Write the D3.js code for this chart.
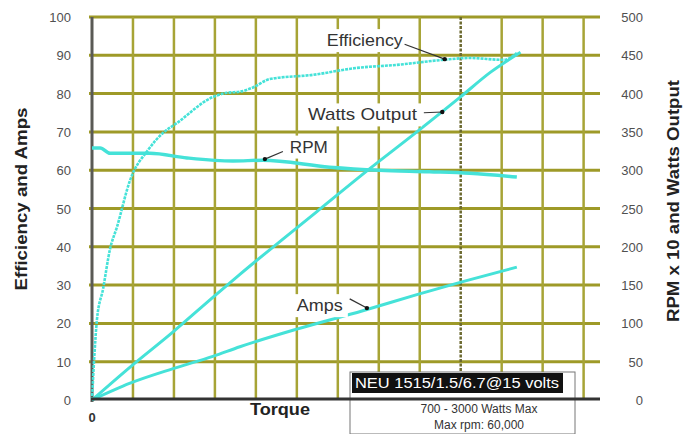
<!DOCTYPE html>
<html><head><meta charset="utf-8">
<script src="https://cdn.jsdelivr.net/npm/d3@7"></script>
<style>html,body{margin:0;padding:0;background:#fff;}svg{display:block;font-family:"Liberation Sans",Arial,sans-serif;}</style>
</head><body><svg id="c" width="694" height="434"></svg>
<script>
// ---- data (x = torque in grid units, left axis 0-100, right axis 0-500) ----
const leftTicks = [0,10,20,30,40,50,60,70,80,90,100];
const rightTicks = [0,50,100,150,200,250,300,350,400,450,500];
const torqueGrid = [1,2,3,4,5,6,7,8,9,10,11,12];
const efficiencyX = [0,0.06,0.12,0.27,0.44,0.61,0.93,1.37,1.73,2.07,2.95,3.29,3.61,3.93,4.34,5.39,6.46,7.44,8.56,9.22,10.05,10.37];
const efficiency  = [0,12,20.9,29.0,39.4,45.2,57.4,65.3,69.7,72.3,79.1,80.2,80.5,81.6,83.8,84.9,86.7,87.5,88.8,89.3,88.8,90.6];
const wattsX = [0,0.93,1.98,2.95,3.61,5.49,6.78,7.93,8.98,9.73,10.46];
const watts  = [0,43,89,134,164,246,302,350,395,428,454];
const rpmX = [0,0.2,0.44,1.41,2.32,3.44,4.17,5.8,7.02,8.24,9.22,10.37];
const rpm  = [329,329,322,322,316,312,313,304,300,298,296,291];
const ampsX = [0,0.93,1.98,2.95,3.61,5.0,6.61,7.93,9.05,10.37];
const amps  = [0,4.4,8.2,11.4,13.9,18.5,23.3,27.5,30.9,34.7];
// annotation labels: [text, textX, textY(left units), arrowFromX, arrowFromY, arrowToX, arrowToY, width]
const notes = [
  ["Efficiency", 5.73, 92.4, 7.63, 92.9, 8.61, 89.0, 76],
  ["Watts Output", 5.27, 73.0, 8.10, 75.0, 8.55, 75.2, 109],
  ["RPM", 4.83, 64.6, 4.66, 64.9, 4.22, 62.9, 38],
  ["Amps", 5.0, 23.2, 6.29, 26.4, 6.71, 24.0, 46]
];
const boxTitle = "NEU 1515/1.5/6.7@15 volts";
const boxLines = ["700 - 3000 Watts Max", "Max rpm: 60,000"];

const svg = d3.select("#c");
const x = d3.scaleLinear().domain([0,12.4]).range([92,600]);
const yL = d3.scaleLinear().domain([0,100]).range([400,17]);
const yR = d3.scaleLinear().domain([0,500]).range([400,17]);
const cyan = "#45e2d8";

// grid
svg.append("g").selectAll("line").data(leftTicks.slice(1)).join("line")
  .attr("x1", x(0)-3).attr("x2", x(12.4)).attr("y1", d=>yL(d)).attr("y2", d=>yL(d))
  .attr("stroke", "#9e9a28").attr("stroke-width", 3);
svg.append("g").selectAll("line").data(torqueGrid).join("line")
  .attr("x1", d=>x(d)).attr("x2", d=>x(d)).attr("y1", yL(100)).attr("y2", yL(0))
  .attr("stroke", d=> d===9 ? "#6c6a30" : "#a7a436").attr("stroke-width", 2.5)
  .attr("stroke-dasharray", d=> d===9 ? "3,1.5" : null);
// left axis line
svg.append("line").attr("x1", x(0)).attr("x2", x(0)).attr("y1", yL(100)).attr("y2", yL(0)+2)
  .attr("stroke", "#5a5a55").attr("stroke-width", 3);

// tick labels
svg.append("g").selectAll("text").data(leftTicks).join("text")
  .attr("x", 71).attr("y", d=>yL(d)+5).attr("text-anchor","end")
  .attr("font-size", 13).attr("fill", "#505050").text(d=>d);
svg.append("g").selectAll("text").data(rightTicks).join("text")
  .attr("x", 643).attr("y", d=>yR(d)+5).attr("text-anchor","end")
  .attr("font-size", 13).attr("fill", "#505050").text(d=>d);
svg.append("text").attr("x", x(0)).attr("y", 422).attr("text-anchor","middle")
  .attr("font-size", 13).attr("font-weight","bold").attr("fill","#333").text("0");

// axis titles
svg.append("text").attr("transform","translate(27,199) rotate(-90)").attr("text-anchor","middle")
  .attr("font-size", 16).attr("font-weight","bold").attr("fill","#222")
  .attr("textLength", 183).attr("lengthAdjust","spacingAndGlyphs").text("Efficiency and Amps");
svg.append("text").attr("transform","translate(679,201) rotate(-90)").attr("text-anchor","middle")
  .attr("font-size", 16).attr("font-weight","bold").attr("fill","#222")
  .attr("textLength", 242).attr("lengthAdjust","spacingAndGlyphs").text("RPM x 10 and Watts Output");
svg.append("text").attr("x", 280).attr("y", 415).attr("text-anchor","middle")
  .attr("font-size", 16).attr("font-weight","bold").attr("fill","#222")
  .attr("textLength", 60).attr("lengthAdjust","spacingAndGlyphs").text("Torque");

// curves
const lineL = (xs, ys, sc) => d3.line().x((d,i)=>x(xs[i])).y(d=>sc(d)).curve(d3.curveMonotoneX)(ys);
svg.append("path").attr("d", lineL(wattsX, watts, yR)).attr("fill","none").attr("stroke",cyan).attr("stroke-width",3);
svg.append("path").attr("d", lineL(ampsX, amps, yL)).attr("fill","none").attr("stroke",cyan).attr("stroke-width",3);
svg.append("path").attr("d", lineL(rpmX, rpm, yR)).attr("fill","none").attr("stroke",cyan).attr("stroke-width",3.5);
svg.append("path").attr("d", lineL(efficiencyX, efficiency, yL)).attr("fill","none").attr("stroke",cyan)
  .attr("stroke-width",2.6).attr("stroke-dasharray","3,1");

// annotations
const ng = svg.append("g");
notes.forEach(n => {
  const tx = x(n[1]), ty = yL(n[2]);
  ng.append("rect").attr("x", tx-5).attr("y", ty-17).attr("width", n[7]+10).attr("height", 23).attr("fill","#fff");
  ng.append("text").attr("x", tx).attr("y", ty).attr("font-size", 17).attr("fill","#333")
    .attr("textLength", n[7]).attr("lengthAdjust","spacingAndGlyphs").text(n[0]);
  ng.append("line").attr("x1", x(n[3])).attr("y1", yL(n[4])).attr("x2", x(n[5])).attr("y2", yL(n[6]))
    .attr("stroke","#333").attr("stroke-width",1.2);
  ng.append("circle").attr("cx", x(n[5])).attr("cy", yL(n[6])).attr("r", 2.2).attr("fill","#111");
});

// info box
const bx = 350, by = 372;
svg.append("rect").attr("x", bx).attr("y", by).attr("width", 225).attr("height", 62)
  .attr("fill","#fff").attr("stroke","#777").attr("stroke-width",1);
svg.append("rect").attr("x", bx+2).attr("y", by+1).attr("width", 211).attr("height", 20).attr("fill","#111");
svg.append("text").attr("x", bx+5).attr("y", by+16).attr("font-size", 15).attr("fill","#fff")
  .attr("textLength", 204).attr("lengthAdjust","spacingAndGlyphs").text(boxTitle);
svg.append("g").selectAll("text").data(boxLines).join("text")
  .attr("x", 479).attr("y", (d,i)=>413 + i*16).attr("text-anchor","middle")
  .attr("font-size", 12).attr("fill","#333").text(d=>d);

// bottom axis line (on top)
svg.append("line").attr("x1", x(0)-1).attr("x2", x(12.4)).attr("y1", yL(0)-1).attr("y2", yL(0)-1)
  .attr("stroke", "#333").attr("stroke-width", 3);
</script></body></html>
